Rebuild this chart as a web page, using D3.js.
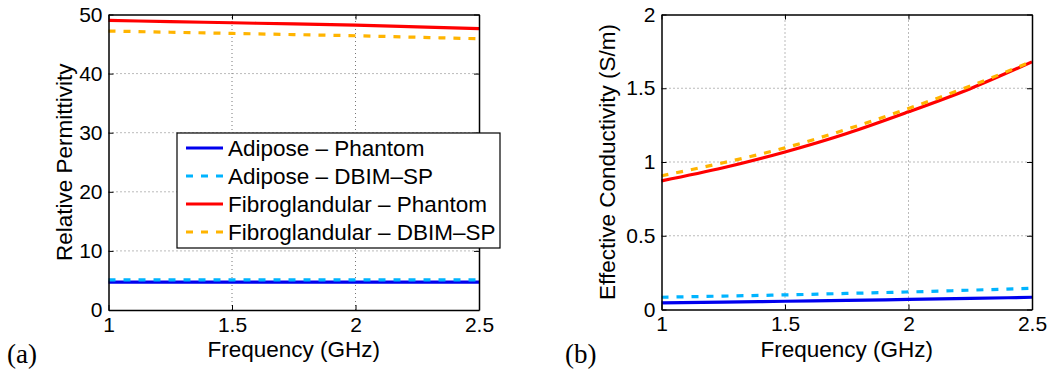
<!DOCTYPE html>
<html>
<head>
<meta charset="utf-8">
<script src="https://cdn.jsdelivr.net/npm/d3@7"></script>
<style>
  html, body { margin: 0; padding: 0; background: #fff; }
  svg { display: block; }
  text { font-family: "Liberation Sans", Arial, Helvetica, sans-serif; fill: #000; }
</style>
</head>
<body>
<svg id="chart" width="1050" height="375"></svg>
<script>
// ---- data ----
const freq = [1, 1.25, 1.5, 1.75, 2, 2.25, 2.5];
const xTicks = [1, 1.5, 2, 2.5];
const xTickLabels = ["1", "1.5", "2", "2.5"];

const epsTicks = [0, 10, 20, 30, 40, 50];
const epsTickLabels = ["0", "10", "20", "30", "40", "50"];
const sigTicks = [0, 0.5, 1, 1.5, 2];
const sigTickLabels = ["0", "0.5", "1", "1.5", "2"];

const seriesNames = ["Adipose \u2013 Phantom", "Adipose \u2013 DBIM\u2013SP", "Fibroglandular \u2013 Phantom", "Fibroglandular \u2013 DBIM\u2013SP"];

const adiposePhantomEps = [4.7, 4.7, 4.7, 4.7, 4.7, 4.7, 4.7];
const adiposeDbimEps    = [5.1, 5.1, 5.1, 5.1, 5.1, 5.1, 5.1];
const fibroPhantomEps   = [49.0, 48.8, 48.6, 48.4, 48.2, 47.9, 47.6];
const fibroDbimEps      = [47.2, 47.0, 46.8, 46.6, 46.4, 46.15, 45.9];

const adiposePhantomSig = [0.045, 0.050, 0.056, 0.062, 0.068, 0.075, 0.083];
const adiposeDbimSig    = [0.083, 0.091, 0.099, 0.109, 0.119, 0.131, 0.144];
const fibroPhantomSig   = [0.872, 0.961, 1.068, 1.193, 1.34, 1.497, 1.679];
const fibroDbimSig      = [0.906, 0.995, 1.096, 1.222, 1.363, 1.515, 1.682];

// ---- styles ----
const colors = ["#0000ee", "#00b4ff", "#ff0000", "#ffb400"];
const dashes = [null, "7 8", null, "7 8"];

const svg = d3.select("#chart");

function panel(opts) {
  const g = svg.append("g");
  const x = d3.scaleLinear().domain([1, 2.5]).range([opts.x0, opts.x1]);
  const y = d3.scaleLinear().domain(opts.yDomain).range([opts.y0, opts.y1]);

  // grid
  const grid = g.append("g");
  xTicks.slice(1, -1).forEach(t => {
    grid.append("line").attr("x1", x(t)).attr("x2", x(t)).attr("y1", opts.y0).attr("y2", opts.y1)
      .attr("stroke", "#777").attr("stroke-width", 1).attr("stroke-dasharray", "1 3");
  });
  opts.yTicks.slice(1, -1).forEach(t => {
    grid.append("line").attr("y1", y(t)).attr("y2", y(t)).attr("x1", opts.x0).attr("x2", opts.x1)
      .attr("stroke", "#777").attr("stroke-width", 1).attr("stroke-dasharray", "1 3");
  });

  // lines
  const line = d3.line().x((d, i) => x(freq[i])).y(d => y(d)).curve(d3.curveNatural);
  opts.series.forEach((s, i) => {
    g.append("path").datum(s).attr("d", line).attr("fill", "none")
      .attr("stroke", colors[i]).attr("stroke-width", 3.2)
      .attr("stroke-dasharray", dashes[i]);
  });

  // axes
  const fmtX = (d) => xTickLabels[xTicks.indexOf(d)];
  const fmtY = (d) => opts.yTickLabels[opts.yTicks.indexOf(d)];
  const axB = g.append("g").attr("transform", `translate(0,${opts.y0})`)
    .call(d3.axisBottom(x).tickValues(xTicks).tickFormat(fmtX).tickSize(-5).tickSizeOuter(0).tickPadding(7));
  const axT = g.append("g").attr("transform", `translate(0,${opts.y1})`)
    .call(d3.axisTop(x).tickValues(xTicks).tickFormat("").tickSize(-5).tickSizeOuter(0));
  const axL = g.append("g").attr("transform", `translate(${opts.x0},0)`)
    .call(d3.axisLeft(y).tickValues(opts.yTicks).tickFormat(fmtY).tickSize(-5).tickSizeOuter(0).tickPadding(6));
  const axR = g.append("g").attr("transform", `translate(${opts.x1},0)`)
    .call(d3.axisRight(y).tickValues(opts.yTicks).tickFormat("").tickSize(-5).tickSizeOuter(0));
  [axB, axT, axL, axR].forEach(a => {
    a.selectAll("path").attr("stroke", "#000").attr("stroke-width", 1.5);
    a.selectAll("line").attr("stroke", "#000").attr("stroke-width", 1);
    a.selectAll("text").style("font-size", "21px").style("font-family", "'Liberation Sans', Arial, sans-serif").attr("fill", "#000");
  });

  // axis labels
  g.append("text").attr("x", (opts.x0 + opts.x1) / 2).attr("y", 357)
    .attr("text-anchor", "middle").style("font-size", "22.5px").text("Frequency (GHz)");
  g.append("text").attr("transform", `translate(${opts.yLabelX},${(opts.y0 + opts.y1) / 2}) rotate(-90)`)
    .attr("text-anchor", "middle").style("font-size", "22.5px").text(opts.yLabel);

  // panel letter
  g.append("text").attr("x", opts.letterX).attr("y", 363)
    .style("font-family", "'Liberation Serif', 'DejaVu Serif', serif").style("font-size", "27px").text(opts.letter);
  return {x, y, g};
}

panel({
  x0: 108.5, x1: 479, y0: 310, y1: 14.5,
  yDomain: [0, 50], yTicks: epsTicks, yTickLabels: epsTickLabels,
  series: [adiposePhantomEps, adiposeDbimEps, fibroPhantomEps, fibroDbimEps],
  yLabel: "Relative Permittivity", yLabelX: 72, letter: "(a)", letterX: 7
});

panel({
  x0: 661.5, x1: 1032, y0: 309.5, y1: 14.5,
  yDomain: [0, 2], yTicks: sigTicks, yTickLabels: sigTickLabels,
  series: [adiposePhantomSig, adiposeDbimSig, fibroPhantomSig, fibroDbimSig],
  yLabel: "Effective Conductivity (S/m)", yLabelX: 615, letter: "(b)", letterX: 565
});

// legend
const leg = svg.append("g").attr("transform", "translate(177,133)");
leg.append("rect").attr("x", 0).attr("y", 0).attr("width", 323).attr("height", 115)
  .attr("fill", "#fff").attr("stroke", "#000").attr("stroke-width", 1.2);
seriesNames.forEach((name, i) => {
  const cy = 15 + i * 28;
  leg.append("line").attr("x1", 9).attr("x2", 46).attr("y1", cy).attr("y2", cy)
    .attr("stroke", colors[i]).attr("stroke-width", 3.2).attr("stroke-dasharray", dashes[i]);
  leg.append("text").attr("x", 51).attr("y", cy).attr("dy", "0.36em")
    .style("font-size", "22.5px").text(name);
});
</script>
</body>
</html>
